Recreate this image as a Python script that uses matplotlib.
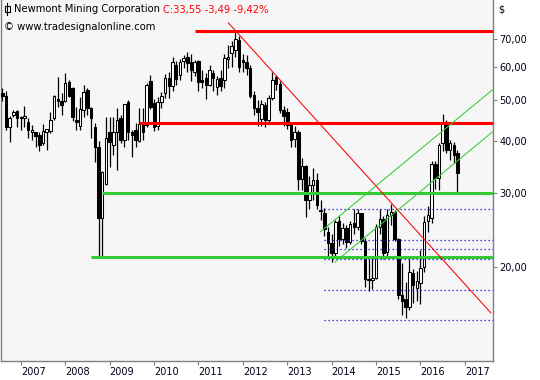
"""Newmont Mining - Monatskerzen mit Trendlinien (Nachbau Tradesignal-Chart)."""
import matplotlib
matplotlib.use("Agg")
import matplotlib.pyplot as plt
from matplotlib.patches import Rectangle
from matplotlib.lines import Line2D
from matplotlib.ticker import FixedLocator, NullLocator, FuncFormatter
import numpy as np

# Monatskerzen ab Aug 2006 bis Nov 2016
erster_monat = (2006, 8)
opens = [52.0, 51.2, 43.3, 46.0, 47.1, 45.6, 45.3, 44.3, 42.0, 41.9, 41.4, 39.6,
         42.0, 42.2, 45.3, 50.3, 49.9, 49.9, 55.3, 53.4, 44.9, 43.5, 47.4, 53.0,
         48.0, 43.1, 38.6, 26.2, 31.6, 41.9, 39.2, 41.9, 45.3, 40.2, 49.4, 42.1,
         42.5, 40.0, 44.2, 43.6, 55.5, 49.3, 43.4, 49.6, 52.0, 56.6, 54.2, 60.5,
         57.5, 62.0, 63.5, 61.5, 58.5, 62.0, 55.9, 56.5, 54.5, 58.2, 53.9, 56.5,
         55.9, 62.7, 64.8, 66.0, 69.6, 62.3, 61.6, 59.7, 51.5, 47.9, 45.0, 48.6,
         44.8, 50.7, 56.7, 54.6, 47.4, 47.0, 43.6, 40.4, 41.9, 32.4, 34.8, 29.0,
         31.5, 32.3, 27.4, 27.0, 24.3, 22.9, 21.7, 25.8, 23.4, 24.8, 23.0, 25.5,
         25.0, 26.9, 23.1, 18.8, 18.7, 18.9, 25.0, 26.1, 21.8, 26.7, 27.1, 23.4,
         17.2, 16.8, 16.1, 19.4, 17.9, 18.4, 20.1, 25.8, 26.2, 35.2, 32.6, 39.5,
         44.3, 38.1, 39.2, 37.5]
highs = [53.5, 52.5, 45.8, 47.3, 47.4, 45.8, 48.5, 45.3, 43.6, 42.0, 41.9, 44.0,
         42.8, 46.9, 51.4, 56.8, 52.0, 58.0, 56.0, 53.7, 48.3, 51.0, 54.5, 53.6,
         48.2, 44.2, 40.0, 33.9, 45.6, 45.6, 45.6, 48.0, 46.1, 49.0, 50.1, 42.5,
         44.2, 48.0, 48.0, 55.0, 57.4, 50.3, 50.8, 52.3, 57.8, 58.4, 63.5, 62.0,
         62.6, 64.0, 65.0, 64.5, 62.5, 62.5, 59.0, 58.0, 60.5, 59.0, 57.0, 59.0,
         64.5, 67.5, 69.0, 73.2, 71.0, 64.5, 64.0, 60.5, 52.6, 50.0, 50.0, 49.5,
         51.5, 58.3, 57.5, 55.5, 48.5, 48.0, 44.3, 43.5, 42.5, 36.5, 35.0, 33.0,
         34.5, 33.5, 29.0, 27.7, 25.0, 24.0, 26.0, 26.5, 25.5, 25.3, 25.8, 27.5,
         27.5, 27.0, 23.5, 21.0, 21.2, 25.4, 27.6, 26.5, 27.5, 28.3, 27.4, 23.5,
         20.5, 18.5, 21.0, 19.8, 19.6, 22.0, 26.5, 28.0, 35.8, 35.8, 39.5, 46.3,
         44.8, 40.2, 39.8, 38.1]
lows = [49.8, 42.5, 39.8, 45.5, 43.3, 42.5, 43.3, 40.6, 40.2, 38.6, 37.8, 39.1,
        38.0, 41.8, 44.9, 48.3, 46.1, 49.4, 50.9, 44.6, 42.5, 42.5, 45.6, 46.1,
        40.6, 35.6, 21.1, 21.1, 31.4, 34.6, 37.0, 34.1, 39.6, 38.6, 40.2, 36.6,
        38.6, 39.8, 40.2, 43.1, 47.6, 42.3, 42.5, 48.0, 50.5, 50.6, 52.5, 54.5,
        56.0, 59.5, 58.5, 55.5, 57.0, 52.5, 53.5, 50.3, 54.0, 52.5, 51.5, 52.5,
        53.5, 59.5, 60.0, 63.5, 58.5, 58.5, 57.5, 50.5, 46.0, 43.5, 43.5, 43.3,
        44.0, 50.0, 53.0, 46.5, 43.5, 42.8, 38.6, 38.8, 30.5, 30.5, 26.3, 27.5,
        29.0, 27.5, 26.0, 23.7, 21.2, 20.6, 21.3, 22.5, 22.8, 22.2, 22.8, 24.0,
        24.5, 22.8, 18.0, 17.6, 17.8, 18.8, 24.0, 21.0, 21.2, 25.2, 23.1, 16.8,
        15.4, 15.2, 15.8, 16.5, 16.6, 16.4, 19.5, 24.3, 25.5, 30.8, 30.5, 37.8,
        37.5, 36.0, 35.5, 30.2]
closes = [51.3, 43.3, 45.3, 46.9, 45.3, 45.3, 45.8, 42.4, 42.5, 41.0, 39.1, 42.2,
          42.6, 44.9, 51.2, 49.9, 48.8, 55.0, 51.1, 45.6, 44.5, 47.6, 52.3, 48.0,
          45.3, 38.6, 26.2, 33.7, 40.6, 39.8, 41.9, 44.9, 40.2, 49.0, 41.9, 41.3,
          40.2, 43.9, 41.9, 54.5, 48.3, 43.1, 49.6, 51.2, 56.4, 54.0, 61.7, 56.2,
          61.5, 63.0, 61.3, 59.0, 61.5, 55.3, 55.3, 54.5, 59.0, 56.5, 56.2, 54.0,
          63.0, 63.4, 67.3, 69.8, 60.0, 61.6, 59.7, 51.2, 47.9, 47.0, 49.0, 44.8,
          50.7, 56.0, 54.7, 47.4, 45.8, 43.6, 40.3, 42.0, 32.4, 34.8, 29.0, 31.5,
          32.3, 28.2, 27.2, 24.7, 22.9, 21.7, 25.7, 23.4, 24.8, 23.0, 25.4, 25.0,
          26.9, 23.1, 18.8, 18.7, 18.9, 25.0, 26.1, 21.7, 26.7, 27.1, 23.4, 17.2,
          16.6, 16.1, 19.5, 18.2, 18.6, 19.9, 25.6, 26.6, 35.2, 32.6, 39.2, 44.3,
          38.1, 39.5, 37.04, 33.55]

# Horizontale Linien: (Preis, Startmonat-Index)
rote_linien = [(73.2, 52), (44.2, 37)]
gruene_linien = [(30.1, 27), (21.2, 24)]
blaue_linien = [27.5, 23.2, 22.1, 20.9, 17.7, 15.0]
blau_start = 87
# Trendlinien: (Index, Preis) -> (Index, Preis)
rote_trend = [(61.1, 76.4), (132.0, 15.6)]
gruen_kanal = [[(85.9, 24.3), (132.4, 52.9)],
               [(89.9, 20.6), (132.4, 42.0)]]
jahre = list(range(2007, 2018))
preis_ticks = [20, 30, 40, 50, 60, 70]

ROT = "#FF0000"
GRUEN = "#33CC33"
BLAU = "#0000FF"
GRAU = "#808080"
FUNDO = "#F6F6F6"
TXT = "#000018"

plt.rcParams["font.family"] = "DejaVu Sans"

W, H = 540, 380
fig = plt.figure(figsize=(W / 100, H / 100), dpi=100, facecolor="white")
ax = fig.add_axes([1 / W, (H - 361) / H, 492 / W, 361 / H], facecolor=FUNDO)

x = np.arange(len(opens))
o, h, l, c = map(np.array, (opens, highs, lows, closes))
up = c >= o

ax.vlines(x, l, h, color="black", linewidth=0.9, zorder=3)
ax.bar(x, np.abs(c - o), bottom=np.minimum(o, c), width=0.68,
       color=np.where(up, "white", "black"), edgecolor="black",
       linewidth=0.75, zorder=4)

ax.set_yscale("log")
ax.set_ylim(11.98, 86.6)
xmin, xmax = -0.35, 132.6
ax.set_xlim(xmin, xmax)

for p, k0 in rote_linien:
    ax.hlines(p, k0, xmax, color=ROT, linewidth=2.2, zorder=5)
for p, k0 in gruene_linien:
    ax.hlines(p, k0, xmax, color=GRUEN, linewidth=2.2, zorder=5)
for p in blaue_linien:
    ax.hlines(p, blau_start, xmax, color=BLAU, linewidth=0.9,
              linestyles=(0, (1, 2.2)), zorder=5)
(a, b) = rote_trend
ax.plot([a[0], b[0]], [a[1], b[1]], color=ROT, linewidth=0.75, zorder=5)
for (a, b) in gruen_kanal:
    ax.plot([a[0], b[0]], [a[1], b[1]], color=GRUEN, linewidth=0.75, zorder=5)

# Achsen
ax.yaxis.tick_right()
ax.yaxis.set_major_locator(FixedLocator(preis_ticks))
ax.yaxis.set_minor_locator(NullLocator())
ax.yaxis.set_major_formatter(FuncFormatter(lambda v, _: f"{v:.2f}".replace(".", ",")))
jan_idx = [(j - erster_monat[0]) * 12 - (erster_monat[1] - 1) for j in jahre]
ax.set_xticks(jan_idx)
ax.set_xticklabels([str(j) for j in jahre])
for lab in ax.get_xticklabels():
    lab.set_ha("left")
ax.tick_params(axis="both", which="both", colors=GRAU, labelcolor=TXT,
               labelsize=7, length=3, width=0.8)
ax.tick_params(axis="y", pad=1.5)
ax.tick_params(axis="x", pad=1)
for s in ["left", "right", "bottom"]:
    ax.spines[s].set_color(GRAU)
    ax.spines[s].set_linewidth(1)
ax.spines["top"].set_visible(False)

fig.text(498 / W, 1 - 10 / H, "$", fontsize=7, color=TXT, ha="left", va="center")

# Kopfzeile mit Symbol
fig.add_artist(Line2D([7 / W, 7 / W], [1 - 3 / H, 1 - 15 / H], color="black",
                      linewidth=0.8, transform=fig.transFigure))
fig.add_artist(Rectangle((4.5 / W, 1 - 12 / H), 5 / W, 6 / H, facecolor="white",
                         edgecolor="black", linewidth=0.8, transform=fig.transFigure))
t1 = fig.text(14 / W, 1 - 9.5 / H, "Newmont Mining Corporation", fontsize=7.2,
              color="black", ha="left", va="center")
fig.canvas.draw()
bb = t1.get_window_extent(fig.canvas.get_renderer())
fig.text(bb.x1 / W + 3 / W, 1 - 9.5 / H, "C:33,55 -3,49 -9,42%", fontsize=7.2,
         color=ROT, ha="left", va="center")
fig.text(4 / W, 1 - 27 / H, "© www.tradesignalonline.com", fontsize=7.2,
         color="black", ha="left", va="center")

fig.savefig("out.png", dpi=100, facecolor="white")
